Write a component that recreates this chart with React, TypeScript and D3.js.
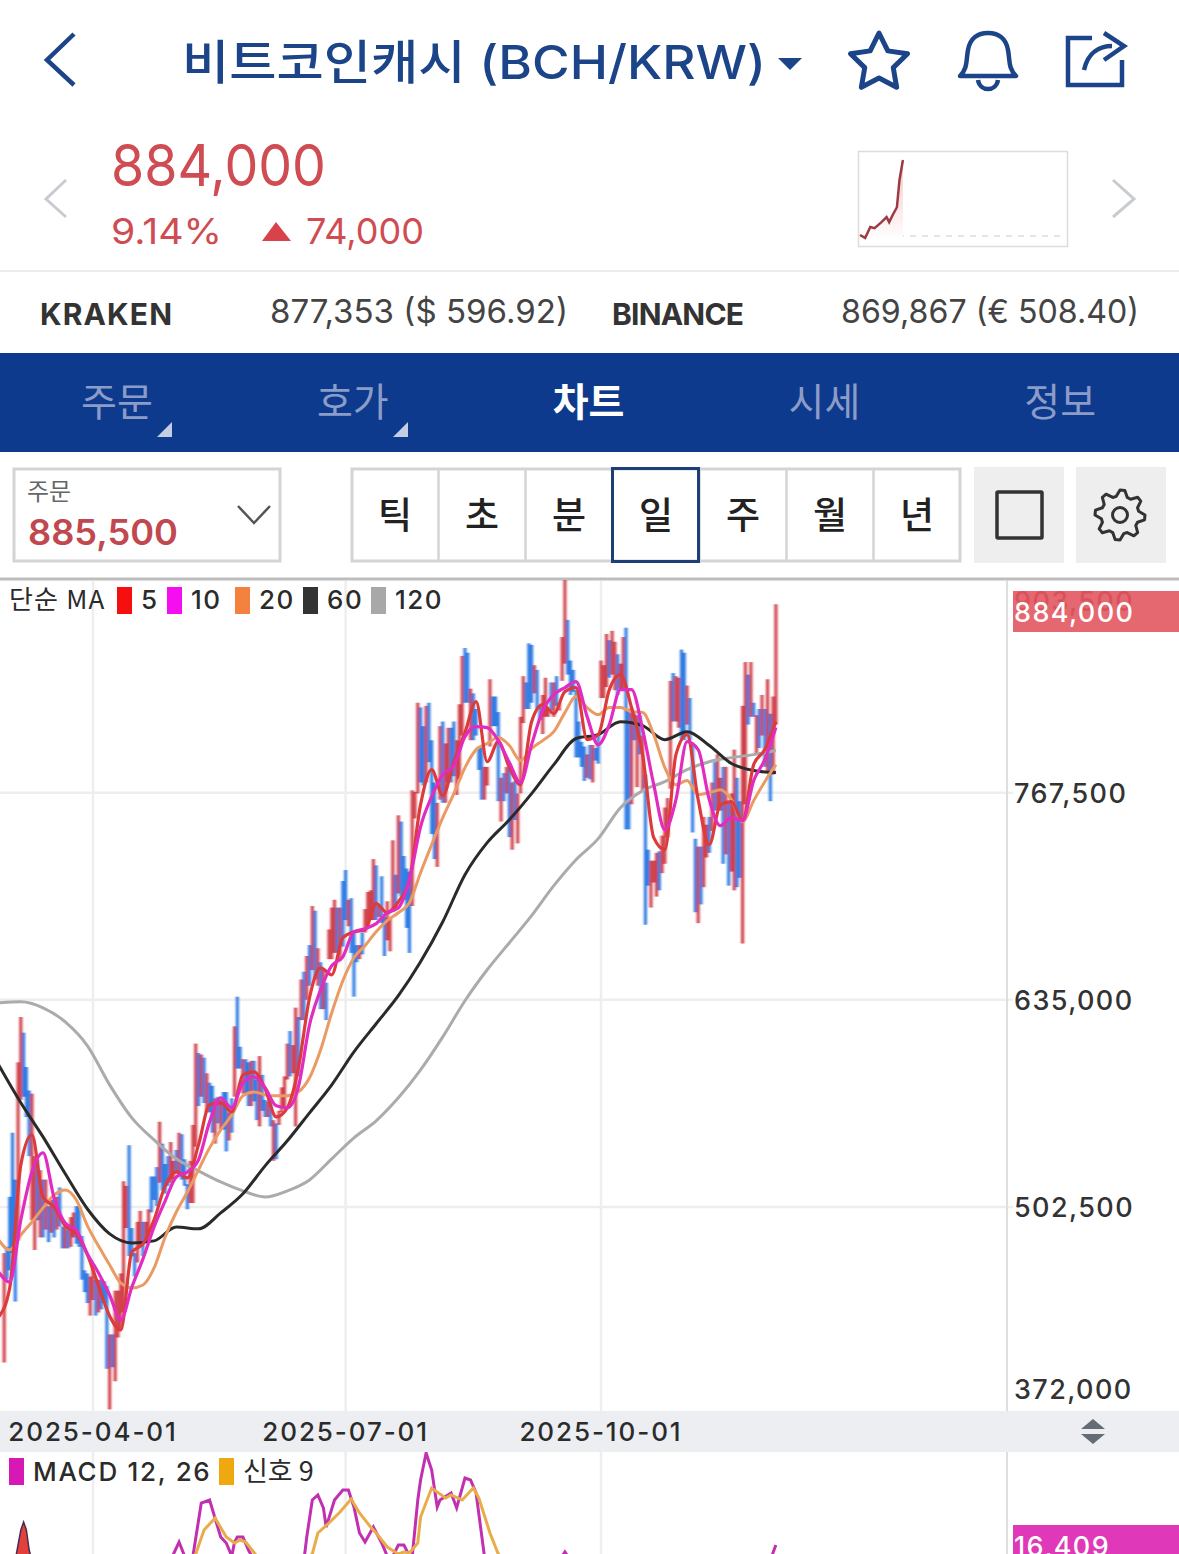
import React from 'react';
import * as d3 from 'd3';

const W = 1179;
const H = 1554;
const FONT = 'Inter, "Noto Sans CJK KR", sans-serif';
const KR = '"Noto Sans CJK KR", Inter, sans-serif';
const NAVY = '#1c4488';

// daily bars, thousand KRW. first bar is 2025-02-28, last is 2025-12-03
const highs = [
  473,477,509,550,520,595,624,614,592,577,575,535,533,526,520,520,503,507,509,509,
  515,490,490,488,496,499,503,503,484,462,460,458,466,456,456,456,455,452,421,421,
  449,449,460,519,516,542,489,473,493,500,493,493,501,522,522,528,557,543,530,535,
  544,532,539,550,549,533,517,532,555,607,601,600,598,588,582,580,572,573,571,576,
  576,563,572,618,637,605,597,597,595,596,596,584,599,587,571,570,571,558,556,564,
  579,586,607,615,606,630,624,648,653,663,670,695,692,668,659,655,646,680,694,699,
  694,694,711,718,699,700,678,670,670,678,693,704,705,725,721,695,714,688,698,687,
  737,715,753,749,727,719,717,769,768,825,822,810,823,825,801,774,761,810,813,799,
  809,809,813,801,824,855,860,857,834,831,821,797,797,784,784,840,829,829,819,777,
  780,784,783,774,775,767,816,842,838,863,862,849,846,823,830,841,821,838,838,842,
  825,867,904,878,852,846,833,813,800,797,792,798,798,796,805,852,849,869,865,871,
  864,856,850,867,873,821,822,818,817,817,804,779,731,724,724,729,730,740,758,764,
  839,844,842,841,859,857,836,828,798,738,733,733,752,747,752,774,787,792,777,784,
  784,762,767,795,777,762,823,851,843,851,825,817,821,830,821,840,818,829,888,
];
const lows = [
  403,456,462,473,442,481,571,573,560,535,494,475,494,483,483,488,480,486,483,488,
  490,476,476,476,477,483,479,477,456,448,441,433,443,433,435,437,441,399,373,400,
  391,419,424,435,489,471,471,458,467,477,471,481,481,499,507,503,518,513,511,516,
  518,520,524,524,520,516,501,505,505,541,567,573,569,563,563,550,543,556,552,552,
  538,545,550,573,591,591,575,575,567,567,570,558,554,564,560,560,554,532,533,555,
  563,567,584,586,588,554,586,622,622,635,644,654,648,644,629,629,622,661,661,665,
  665,661,669,686,682,665,637,659,661,664,678,682,686,686,686,688,684,663,673,666,
  691,693,703,701,699,681,665,695,751,767,774,772,774,787,741,725,720,763,761,761,
  774,774,778,766,776,804,825,825,801,801,804,782,763,763,772,797,810,810,762,749,
  762,767,739,731,750,735,767,812,821,821,825,831,821,814,805,816,816,820,816,823,
  820,839,850,843,830,832,790,790,784,775,777,776,774,788,786,828,828,835,841,843,
  833,830,834,834,744,744,760,801,771,792,769,683,708,694,710,701,705,716,722,739,
  770,813,813,809,802,801,811,801,742,691,684,696,707,726,729,743,756,756,756,722,
  728,708,717,705,707,713,671,760,811,816,816,792,796,804,784,781,762,779,811,
];
// R = up day, B = down day
const dirs = [
  'RBBBBRRBBB','RRBRBRBRBR','BBRBRRBBBB','BRRBRBBBRB','RRRRRBBBRR','BRRBBBRBBB','RRBRBBBRRR',
  'BRBRBBRBRB','BRBRBBRBBR','BBRBBRBRBR','RRRBRRBRBR','BRBRBRBRRR','BRBBRBBBRB','RRRRBRBBRR',
  'RBRBBBBRRR','BBRBBBRRBR','RBBRRRBBRB','BBBRRRBBBR','BRBRBRRRBB','BRBBRRRBRB','RRRBBBBBBB',
  'RBRBBRRRBR','RBRRBBRBRB','RBBRRRBRRR','RBRRBBRBBB','RBRRBRBRRB','RBRRBBRRBR','BRBRBRBRR',
].join('').split('');

// moving averages, thousand KRW, one value every 4 days from 2025-02-26
const ma5 = [
  432.1,450.7,529.4,548.6,508.9,502.5,490.4,485.3,471.8,452,432.8,423.8,473.7,478.9,494.2,516,524.9,521.1,542.2,567.8,
  569.1,563.3,587,588.9,578.1,560.1,565.9,591.5,636.3,655.5,651,674.7,678.5,679.8,696.5,690.7,697.7,711.8,759.8,782.2,
  765.6,787.3,805.9,825.7,787.3,800.1,783.5,772.6,812.9,823.8,818.1,832.1,834.7,801.4,804.6,833.4,843,821.9,791.8,738.7,
  731,791.8,804.6,763,734.2,759.8,761.7,749.6,785.4,795,812.9,
];
const ma10 = [
  460.9,454.5,494.2,524.9,537.1,508.3,492.3,487.8,472.5,460.3,446.2,430.2,451.3,469.3,489.7,506.4,521.7,524.9,532.6,556.9,
  572.3,565.9,581.9,585.7,578.7,567.2,565.9,579.3,619,641.4,656.8,662.5,678.5,680.5,683.7,690.7,693.9,711.8,745.7,764.9,
  779,784.8,803.3,809.7,809.1,800.8,786.7,773.9,798.2,820,830.2,834.7,838.5,816.1,798.2,811,833.4,833.4,807.8,772.6,
  743.8,763,800.1,795,763,746.4,751.5,749.6,775.2,788.6,809.1,
];
const ma20 = [
  481.4,475,484.6,492.9,501.9,510.2,513.4,507,490.4,477.5,465.4,453.9,450.7,452.6,463.5,483.3,499.3,512.1,526.2,540.3,
  551.8,561.4,573.6,576.1,574.2,573.6,573.6,576.1,585.1,603,626.7,647.2,661.9,669.6,678.5,685.6,690.7,697.1,716.3,734.2,
  751.5,766.9,783.5,795,798.9,802.7,797.6,788,795.7,800.8,806.5,818.7,828.9,821.9,817.4,821.9,821.9,819.3,818.7,804.6,
  783.5,772.6,775.2,766.2,767.5,769.4,763,748.9,762.4,774.5,785.4,
];
// slower averages, one value every 8 days
const ma60 = [
  593.4,569.1,547.3,523.7,501.2,485.3,479.5,480.8,489.7,488.5,498.7,510.9,528.8,544.8,562.7,580.6,601.7,619.7,637.6,659.3,
  684.9,715,735.5,750.2,766.9,785.4,802.1,804.6,812.9,810.4,801.4,806.5,797.6,786.1,781.6,780.3,
];
const ma120 = [
  633.1,633.7,629.9,620.9,605.6,580.6,559.5,545.4,533.3,525.6,518.5,512.8,508.9,512.8,519.8,533.3,546.7,557.6,572.3,590.2,
  611.3,634.4,654.2,671.5,688.8,708,724.6,738.1,757.9,768.8,774.5,782.2,787.3,789.9,791.8,794.4,
];

// MACD panel, KRW. day = days after 2025-02-26
const macdDays = [
  12,62,65,67,70,73,76,80,82,84,85,86,88,90,92,110,111,113,115,117,118,121,124,126,128,130,132,135,138,140,142,144,146,148,149,
  151,152,154,156,158,159,163,165,168,170,172,175,202,204,206,278,280,
];
const macdValues = [
  9000,11804,17330,13000,13000,29303,30224,18865,17023,13000,17330,18865,18865,14874,11804,11804,18865,30224,31759,27768,21935,
  30224,33294,33294,28075,20093,17330,21935,17023,13000,13000,16409,16409,13000,13000,30224,36364,44653,39434,28075,30224,32373,
  27768,36978,36364,32373,13000,11804,14260,11804,11804,16409,
];
const signalDays = [
  68,71,74,78,82,85,87,89,93,108,113,115,119,123,127,130,134,136,140,144,146,148,151,152,156,161,163,167,171,173,177,180,184,
];
const signalValues = [
  10268,13646,21014,24698,18865,17023,17944,17330,13032,10268,13646,20093,23163,26540,30531,26233,21935,20093,15795,13646,14260,
  13953,17023,25005,33908,30838,31759,30224,33908,30838,20093,13646,10268,
];
const histDays = [6,7,8,9,10,11,12];
const histValues = [11804,16409,21014,23470,21014,14874,11804];

// intraday mini chart
const sparkHours = [0,0.6,1.2,1.7,2.5,3.1,3.4,3.8,4.3,4.6,5];
const sparkValues = [811,808,818.7,817.7,823.5,828.4,823.5,830.3,838,864.5,884];

const maLegend = [
  { label: '5', color: '#f50f0f' },
  { label: '10', color: '#f50ff0' },
  { label: '20', color: '#f5813f' },
  { label: '60', color: '#333333' },
  { label: '120', color: '#a8a8a8' },
];
const priceTicks = [767.5, 635, 502.5];
const dateTicks = [new Date(2025, 3, 1), new Date(2025, 6, 1), new Date(2025, 9, 1)];
const tabs = ['주문', '호가', '차트', '시세', '정보'];
const periods = ['틱', '초', '분', '일', '주', '월', '년'];

const START = new Date(2025, 1, 26);
const dayDate = (k: number) => d3.timeDay.offset(START, k);

const x = d3.scaleTime().domain([dateTicks[0], dateTicks[2]]).range([93, 601]);
const y = d3.scaleLinear().domain([372, 903.5]).range([1411, 580]);
const yMacd = d3.scaleLinear().domain([16409, 44039]).range([1545, 1455]);
const xSpark = d3.scaleLinear().domain([0, 24]).range([860, 1066]);
const ySpark = d3.scaleLinear().domain([810, 884]).range([236, 160]);
const fmtDate = d3.timeFormat('%Y-%m-%d');
const fmtPrice = (v: number) => d3.format(',')(v * 1000);

const maPath = (vals: number[], step: number) =>
  d3.line<number>()
    .x((_, i) => x(dayDate(i * step)))
    .y(v => y(v))
    .curve(d3.curveMonotoneX)(vals) as string;

const macdLine = (days: number[], vals: number[]) =>
  d3.line<number>()
    .x((_, i) => x(dayDate(days[i])))
    .y(v => yMacd(v))(vals) as string;

const star = d3.lineRadial<number>()
  .angle((_, i) => (i * Math.PI) / 5)
  .radius(v => v)
  .curve(d3.curveLinearClosed)(d3.range(10).map(i => (i % 2 ? 15 : 30))) as string;

const gear = d3.lineRadial<number>()
  .angle((_, i) => (i * Math.PI) / 16)
  .radius(v => v)
  .curve(d3.curveLinearClosed)(d3.range(32).map(i => (i % 4 < 2 ? 25 : 19))) as string;

export default function App() {
  const sparkLine = d3.line<number>().x((_, i) => xSpark(sparkHours[i])).y(v => ySpark(v))(sparkValues) as string;
  const sparkArea = d3.area<number>().x((_, i) => xSpark(sparkHours[i])).y0(240).y1(v => ySpark(v))(sparkValues) as string;
  const histArea = d3.area<number>().x((_, i) => x(dayDate(histDays[i]))).y0(1556).y1(v => yMacd(v))(histValues) as string;

  let lx = 117;
  return (
    <svg width={W} height={H} viewBox={`0 0 ${W} ${H}`}
      style={{ position: 'absolute', left: 0, top: 0, display: 'block', background: '#fff' }}>
      <defs>
        <clipPath id="plot"><rect x={0} y={580} width={1007} height={831} /></clipPath>
        <clipPath id="macd"><rect x={0} y={1452} width={1007} height={102} /></clipPath>
        <filter id="soft" x="-2%" y="-2%" width="104%" height="104%"><feGaussianBlur stdDeviation="0.9 0.4" /></filter>
        <linearGradient id="sparkFill" x1="0" y1="0" x2="0" y2="1">
          <stop offset="0" stopColor="#f9c4c4" />
          <stop offset="1" stopColor="#ffffff" />
        </linearGradient>
      </defs>

      {/* header */}
      <polyline points="74,34 47,60 74,85" fill="none" stroke={NAVY} strokeWidth={4.5} />
      <text x={182} y={79} fontFamily={FONT} fontWeight={500} fontSize={47} fill={NAVY} textLength={584} lengthAdjust="spacingAndGlyphs">
        비트코인캐시 (BCH/KRW)
      </text>
      <path d="M778,58 H802 L790,70 Z" fill={NAVY} />
      <path d={star} transform="translate(879,63)" fill="none" stroke={NAVY} strokeWidth={5} strokeLinejoin="round" />
      <path d="M960,76 C968,68 966,60 968,50 C970,38 978,33 988,33 C998,33 1006,38 1008,50 C1010,60 1008,68 1016,76 Z M978,80 C980,92 996,92 998,80"
        fill="none" stroke={NAVY} strokeWidth={4.5} strokeLinejoin="round" />
      <path d="M1092,38 H1068 V85 H1122 V60" fill="none" stroke={NAVY} strokeWidth={4.5} />
      <path d="M1084,70 C1088,52 1100,46 1112,46 M1104,33 L1124,46 L1104,60" fill="none" stroke={NAVY} strokeWidth={4.5} />

      {/* price */}
      <polyline points="66,180 46,199 66,217" fill="none" stroke="#c8ccd2" strokeWidth={3} />
      <polyline points="1113,180 1134,199 1113,217" fill="none" stroke="#c8ccd2" strokeWidth={3} />
      <text x={111} y={186} fontFamily={FONT} fontSize={58} fill="#cf4c52" textLength={215} lengthAdjust="spacingAndGlyphs">884,000</text>
      <text x={111} y={244} fontFamily={FONT} fontSize={36} fill="#cf4c52" textLength={111} lengthAdjust="spacingAndGlyphs">9.14%</text>
      <path d="M262,241 L276,222 L291,241 Z" fill="#d8434b" />
      <text x={306} y={244} fontFamily={FONT} fontSize={36} fill="#cf4c52">74,000</text>

      <rect x={858.5} y={151.5} width={209} height={95} fill="#fff" stroke="#dcdcdc" strokeWidth={1.5} />
      <line x1={862} x2={1066} y1={ySpark(810)} y2={ySpark(810)} stroke="#dddddd" strokeWidth={1.5} strokeDasharray="6 6" />
      <path d={sparkArea} fill="url(#sparkFill)" />
      <path d={sparkLine} fill="none" stroke="#9c3b44" strokeWidth={2.5} />

      <rect x={0} y={270} width={W} height={2} fill="#ececec" />
      <text x={40} y={325} fontFamily={FONT} fontWeight={700} fontSize={30} fill="#333" textLength={132}>KRAKEN</text>
      <text x={270} y={323} fontFamily={FONT} fontSize={33} fill="#444" textLength={298} lengthAdjust="spacingAndGlyphs">877,353 ($ 596.92)</text>
      <text x={612} y={325} fontFamily={FONT} fontWeight={700} fontSize={30} fill="#333" textLength={132}>BINANCE</text>
      <text x={841} y={323} fontFamily={FONT} fontSize={33} fill="#444" textLength={298} lengthAdjust="spacingAndGlyphs">869,867 (€ 508.40)</text>

      {/* tabs */}
      <rect x={0} y={353} width={W} height={99} fill="#0d3a8d" />
      {tabs.map((t, i) => (
        <text key={t} x={117 + i * 235.8} y={416} textAnchor="middle" fontFamily={KR} fontSize={39}
          fontWeight={i === 2 ? 700 : 400} fill={i === 2 ? '#ffffff' : '#8b9cc8'}>{t}</text>
      ))}
      <path d="M157,437 L172,422 V437 Z" fill="#c4cde4" />
      <path d="M393,437 L408,422 V437 Z" fill="#c4cde4" />

      {/* selector row */}
      <rect x={14} y={469} width={266} height={92} fill="#fff" stroke="#d4d4d4" strokeWidth={3} />
      <text x={27} y={500} fontFamily={KR} fontSize={24} fill="#666">주문</text>
      <text x={28} y={545} fontFamily={FONT} fontWeight={600} fontSize={35} fill="#c0484f" textLength={150} lengthAdjust="spacingAndGlyphs">885,500</text>
      <polyline points="238,506 254,523 270,506" fill="none" stroke="#555" strokeWidth={2.5} />
      <rect x={352} y={469} width={608} height={92} fill="#fff" stroke="#d4d4d4" strokeWidth={3} />
      {periods.map((p, i) => (
        <g key={p}>
          {i > 0 && <line x1={351.5 + i * 87} x2={351.5 + i * 87} y1={469} y2={561} stroke="#d4d4d4" strokeWidth={2.5} />}
          <text x={395 + i * 87} y={529} textAnchor="middle" fontFamily={KR} fontWeight={500} fontSize={37} fill="#222">{p}</text>
        </g>
      ))}
      <rect x={612.5} y={468.5} width={86} height={93} fill="none" stroke="#1c3f78" strokeWidth={3} />
      <rect x={974} y={467} width={90} height={96} fill="#eeeeee" />
      <rect x={997} y={492} width={45} height={46} fill="none" stroke="#333" strokeWidth={3.5} rx={1} />
      <rect x={1076} y={467} width={90} height={96} fill="#eeeeee" />
      <path d={gear} transform="translate(1120,515)" fill="none" stroke="#333" strokeWidth={3} strokeLinejoin="round" />
      <circle cx={1120} cy={515} r={7.5} fill="none" stroke="#333" strokeWidth={3} />
      <rect x={0} y={577.5} width={W} height={3} fill="#bdbdbd" />

      {/* grid */}
      {dateTicks.map(d => (
        <line key={d.getTime()} x1={x(d)} x2={x(d)} y1={581} y2={1554} stroke="#eeeeee" strokeWidth={2.5} />
      ))}
      {priceTicks.map(v => (
        <line key={v} x1={0} x2={1013} y1={y(v)} y2={y(v)} stroke="#eeeeee" strokeWidth={2.5} />
      ))}
      <line x1={1007} x2={1007} y1={581} y2={1554} stroke="#dedede" strokeWidth={2} />

      {/* daily bars and averages */}
      <g clipPath="url(#plot)">
        <g filter="url(#soft)">
          {highs.map((h, i) => (
            <line key={i} x1={x(dayDate(i + 2))} x2={x(dayDate(i + 2))} y1={y(h)} y2={y(lows[i])}
              stroke={dirs[i] === 'R' ? '#d0404a' : '#2f7ce4'} strokeWidth={3.1} />
          ))}
        </g>
        <path d={maPath(ma120, 8)} fill="none" stroke="#ababab" strokeWidth={3} />
        <path d={maPath(ma60, 8)} fill="none" stroke="#2a2a2a" strokeWidth={3} />
        <path d={maPath(ma20, 4)} fill="none" stroke="#ea9a62" strokeWidth={3} />
        <path d={maPath(ma5, 4)} fill="none" stroke="#dd3a3c" strokeWidth={3.2} />
        <path d={maPath(ma10, 4)} fill="none" stroke="#e22cc0" strokeWidth={3.2} />
      </g>

      {/* legend */}
      <text x={9} y={609} fontFamily={KR} fontSize={26} fill="#2b2b2b" letterSpacing={1.2}>단순 MA</text>
      {maLegend.map(m => {
        const at = lx;
        lx += m.label.length === 1 ? 50 : 68;
        return (
          <g key={m.label}>
            <rect x={at} y={587} width={15} height={27} fill={m.color} />
            <text x={at + 24} y={609} fontFamily={FONT} fontWeight={500} fontSize={26} fill="#2b2b2b" letterSpacing={1.5}>{m.label}</text>
          </g>
        );
      })}

      {/* price axis */}
      <text x={1014} y={611} fontFamily={FONT} fontWeight={500} fontSize={27} fill="#7a2228" letterSpacing={1.4}>903,500</text>
      <rect x={1013} y={591} width={166} height={41} fill="#e25761" fillOpacity={0.9} />
      <text x={1014} y={622} fontFamily={FONT} fontWeight={500} fontSize={27} fill="#fff" letterSpacing={1.4}>884,000</text>
      {priceTicks.map(v => (
        <text key={v} x={1014} y={y(v) + 10} fontFamily={FONT} fontWeight={500} fontSize={27} fill="#333" letterSpacing={1.4}>{fmtPrice(v)}</text>
      ))}
      <text x={1014} y={1399} fontFamily={FONT} fontWeight={500} fontSize={27} fill="#333" letterSpacing={1.4}>372,000</text>

      {/* date strip */}
      <rect x={0} y={1411} width={W} height={41} fill="#eceef2" />
      {dateTicks.map(d => (
        <text key={d.getTime()} x={x(d)} y={1441} textAnchor="middle" fontFamily={FONT} fontWeight={500} fontSize={26} fill="#2b2b2b" letterSpacing={1.9}>
          {fmtDate(d)}
        </text>
      ))}
      <path d="M1081,1429 L1093,1419 L1105,1429 Z M1081,1434 L1093,1444 L1105,1434 Z" fill="#666c75" />

      {/* MACD */}
      <g clipPath="url(#macd)">
        <path d={histArea} fill="#e3403c" stroke="#4a2a55" strokeWidth={1.5} />
        <path d={macdLine(macdDays, macdValues)} fill="none" stroke="#c030b0" strokeWidth={3} />
        <path d={macdLine(signalDays, signalValues)} fill="none" stroke="#e8ac4a" strokeWidth={3} />
      </g>
      <rect x={9} y={1458} width={15} height={27} fill="#d818b4" />
      <text x={33} y={1481} fontFamily={FONT} fontWeight={500} fontSize={26} fill="#2b2b2b" letterSpacing={1.7}>MACD 12, 26</text>
      <rect x={219} y={1458} width={15} height={27} fill="#f0a810" />
      <text x={243} y={1481} fontFamily={KR} fontSize={27} fill="#2b2b2b">신호 9</text>
      <rect x={1013} y={1525} width={166} height={29} fill="#df38b8" />
      <text x={1014} y={1556} fontFamily={FONT} fontWeight={500} fontSize={27} fill="#fff" letterSpacing={1.4}>16,409</text>
    </svg>
  );
}
